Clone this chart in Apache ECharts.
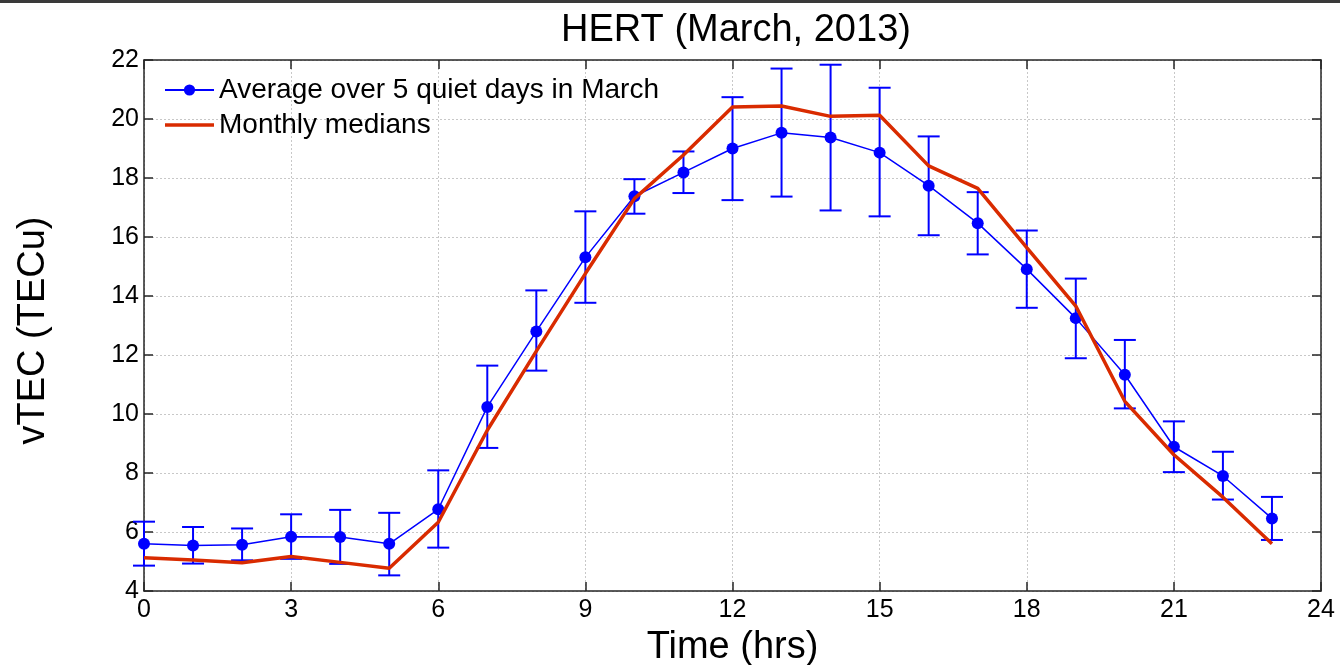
<!DOCTYPE html>
<html><head><meta charset="utf-8">
<script src="https://cdn.jsdelivr.net/npm/echarts@6/dist/echarts.min.js"></script>
<style>html,body{margin:0;padding:0;background:#fff;}#c{width:1340px;height:665px;}</style>
</head><body><div id="c"></div>
<script>
const hours = [0,1,2,3,4,5,6,7,8,9,10,11,12,13,14,15,16,17,18,19,20,21,22,23];
const quietAvg = [5.60,5.54,5.57,5.84,5.83,5.60,6.77,10.24,12.80,15.31,17.38,18.19,19.00,19.53,19.37,18.86,17.74,16.47,14.91,13.25,11.33,8.89,7.90,6.46];
const errUpper = [6.35,6.17,6.12,6.60,6.75,6.65,8.09,11.64,14.19,16.87,17.96,18.90,20.74,21.71,21.84,21.06,19.41,17.52,16.22,14.59,12.51,9.75,8.72,7.19];
const errLower = [4.86,4.93,5.04,5.09,4.92,4.53,5.47,8.85,11.47,13.77,16.79,17.49,17.25,17.37,16.90,16.70,16.06,15.41,13.60,11.89,10.19,8.03,7.10,5.73];
const medians = [5.13,5.05,4.96,5.17,4.97,4.77,6.33,9.45,12.13,14.76,17.30,18.78,20.41,20.44,20.09,20.13,18.41,17.65,15.64,13.66,10.43,8.62,7.18,5.60];
const xTicks = [0,3,6,9,12,15,18,21,24];
const yTicks = [4,6,8,10,12,14,16,18,20,22];

const chart = echarts.init(document.getElementById('c'), null, {renderer:'canvas'});
const FONT = 'Liberation Sans, Arial, sans-serif';
const BLUE = '#0000ff', RED = '#d92b00';

const lineData = hours.map((h,i)=>[h, quietAvg[i]]);
const medData = hours.map((h,i)=>[h, medians[i]]);
const errData = hours.map((h,i)=>[h, errLower[i], errUpper[i]]);

const axisCommon = {
  axisLine:{show:true, onZero:false, lineStyle:{color:'#262626', width:1.5}},
  axisTick:{show:true, inside:true, length:9, lineStyle:{color:'#262626', width:1.5}}
};

const option = {
  animation:false,
  backgroundColor:'#fff',
  title:{text:'HERT (March, 2013)', left:731, textAlign:'center', top:7,
    textStyle:{fontFamily:FONT, fontSize:38, fontWeight:'normal', color:'#000'}},
  graphic:[{type:'rect', shape:{x:0,y:0,width:1340,height:3}, style:{fill:'#3a3a3a'}, silent:true}],
  legend:{left:159, top:71, orient:'vertical', itemGap:7, itemWidth:49, itemHeight:14,
    textStyle:{fontFamily:FONT, fontSize:28, color:'#000'},
    data:[{name:'Average over 5 quiet days in March'},
          {name:'Monthly medians', icon:'path://M0,0L40,0L40,3L0,3Z'}]},
  grid:{left:144, right:19, top:60, bottom:74, outerBoundsMode:'none', containLabel:false},
  xAxis:[Object.assign({type:'value', min:0, max:24, interval:3, position:'bottom',
    name:'Time (hrs)', nameLocation:'middle', nameGap:38,
    nameTextStyle:{fontFamily:FONT, fontSize:38, color:'#000'},
    axisLabel:{fontFamily:FONT, fontSize:25, color:'#000', margin:7},
    splitLine:{show:true, lineStyle:{color:'#c8c8c8', type:[2,2], width:1}}}, axisCommon),
   Object.assign({type:'value', min:0, max:24, interval:3, position:'top',
    axisLabel:{show:false}, splitLine:{show:false}}, axisCommon)],
  yAxis:[Object.assign({type:'value', min:4, max:22, interval:2, position:'left',
    name:'vTEC (TECu)', nameLocation:'middle', nameGap:91, nameRotate:90,
    nameTextStyle:{fontFamily:FONT, fontSize:38, color:'#000', padding:[0,10,0,0]},
    axisLabel:{fontFamily:FONT, fontSize:25, color:'#000', margin:5},
    splitLine:{show:true, lineStyle:{color:'#c8c8c8', type:[2,2], width:1}}}, axisCommon),
   Object.assign({type:'value', min:4, max:22, interval:2, position:'right',
    axisLabel:{show:false}, splitLine:{show:false}}, axisCommon)],
  series:[
    {type:'custom', name:'errbars', xAxisIndex:0, yAxisIndex:0, z:3,
      renderItem:function(params, api){
        const x = api.value(0);
        const lo = api.coord([x, api.value(1)]);
        const hi = api.coord([x, api.value(2)]);
        const cw = 11;
        const st = {stroke:BLUE, lineWidth:2, fill:null};
        return {type:'group', children:[
          {type:'line', shape:{x1:lo[0], y1:lo[1], x2:hi[0], y2:hi[1]}, style:st},
          {type:'line', shape:{x1:lo[0]-cw, y1:lo[1], x2:lo[0]+cw, y2:lo[1]}, style:st},
          {type:'line', shape:{x1:hi[0]-cw, y1:hi[1], x2:hi[0]+cw, y2:hi[1]}, style:st}
        ]};
      },
      encode:{x:0, y:[1,2]}, data:errData, silent:true},
    {type:'line', name:'Average over 5 quiet days in March', data:lineData, z:4,
      symbol:'circle', symbolSize:12, showSymbol:true,
      lineStyle:{color:BLUE, width:1.5}, itemStyle:{color:BLUE}},
    {type:'line', name:'Monthly medians', data:medData, z:5, symbol:'none',
      lineStyle:{color:RED, width:3.5}, itemStyle:{color:RED}}
  ]
};
chart.setOption(option);
</script></body></html>
